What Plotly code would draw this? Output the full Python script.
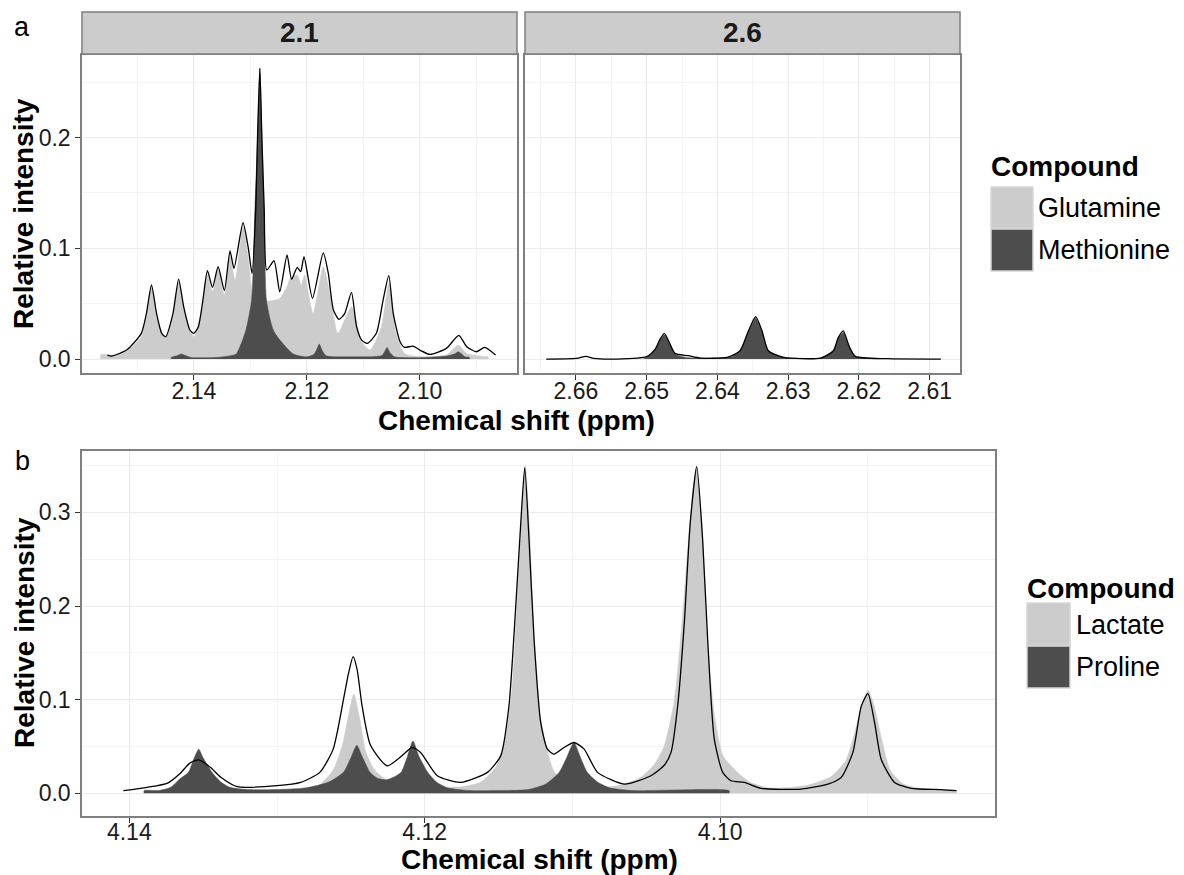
import plotly.graph_objects as go

# ---------------- data ----------------
# Panel a, left facet (2.1 ppm region)
glu_ppm = [2.1565, 2.1565, 2.1544, 2.1520, 2.1493, 2.1484, 2.1475, 2.1466, 2.1450, 2.1437,
           2.1427, 2.1416, 2.1400, 2.1384, 2.1376, 2.1367, 2.1357, 2.1346, 2.1336, 2.1327,
           2.1313, 2.1304, 2.1296, 2.1289, 2.1268, 2.1248, 2.1234, 2.1230, 2.1217, 2.1210,
           2.1204, 2.1189, 2.1171, 2.1159, 2.1145, 2.1121, 2.1103, 2.1088, 2.1068, 2.1055,
           2.1042, 2.1027, 2.0994, 2.0953, 2.0932, 2.0917, 2.0882, 2.0879, 2.0879]
glu_int = [0.0, 0.0042, 0.0036, 0.0066, 0.0201, 0.0382, 0.0638, 0.0382, 0.0186, 0.0382,
           0.0698, 0.0412, 0.0201, 0.0502, 0.0758, 0.0608, 0.0803, 0.0578, 0.0923, 0.0713,
           0.1194, 0.0923, 0.0587, 0.0517, 0.0523, 0.0547, 0.0668, 0.0728, 0.0758, 0.0668,
           0.0758, 0.0412, 0.0833, 0.0593, 0.0232, 0.0472, 0.0156, 0.0081, 0.0292, 0.0682,
           0.0232, 0.0051, 0.0021, 0.0036, 0.0126, 0.0051, 0.0021, 0.0021, 0.0]

met_a_ppm = [2.1440, 2.1440, 2.1430, 2.1422, 2.1414, 2.1405, 2.1360, 2.1335, 2.1325, 2.13085,
             2.12979, 2.1292, 2.12873, 2.12832, 2.12796, 2.12755, 2.12714, 2.12584, 2.1224, 2.1200,
             2.1188, 2.1183, 2.1178, 2.1173, 2.1166, 2.1120, 2.1068, 2.1063, 2.1058, 2.1053,
             2.1045, 2.0990, 2.0950, 2.0937, 2.0932, 2.0927, 2.0920, 2.0912, 2.0912]
met_a_int = [0.0, 0.0015, 0.003, 0.0045, 0.003, 0.0015, 0.0015, 0.003, 0.0045, 0.025,
             0.053, 0.135, 0.198, 0.2623, 0.198, 0.135, 0.053, 0.025, 0.0045, 0.002,
             0.004, 0.008, 0.0135, 0.008, 0.003, 0.002, 0.003, 0.006, 0.0105, 0.006,
             0.002, 0.0015, 0.003, 0.005, 0.0066, 0.005, 0.002, 0.0015, 0.0]

spec_a_ppm = [2.1553, 2.1546, 2.1519, 2.1493, 2.1484, 2.1475, 2.1466, 2.1457, 2.1450, 2.1437,
              2.1427, 2.1418, 2.1407, 2.1400, 2.1392, 2.1384, 2.1376, 2.1367, 2.1357, 2.1346,
              2.1336, 2.1329, 2.1313, 2.1304, 2.1297, 2.12905, 2.12873, 2.12832, 2.12796, 2.12755,
              2.1271, 2.1258, 2.1248, 2.1235, 2.1227, 2.1217, 2.1211, 2.1205, 2.1190, 2.1171,
              2.1162, 2.1153, 2.1143, 2.1133, 2.1121, 2.1112, 2.1103, 2.1093, 2.1077, 2.1065,
              2.1055, 2.1047, 2.1035, 2.1027, 2.1012, 2.1000, 2.0982, 2.0953, 2.0931, 2.0917,
              2.0900, 2.0885, 2.0866]
spec_a_int = [0.0036, 0.0027, 0.0081, 0.0232, 0.0412, 0.0668, 0.041, 0.0232, 0.0201, 0.041,
              0.0722, 0.0472, 0.0262, 0.0232, 0.0292, 0.0532, 0.0797, 0.0647, 0.0833, 0.0617,
              0.0975, 0.0818, 0.123, 0.1014, 0.0773, 0.135, 0.2, 0.2623, 0.2, 0.135,
              0.0803, 0.0887, 0.0607, 0.0939, 0.0719, 0.0827, 0.0788, 0.0923, 0.0548, 0.0959,
              0.0773, 0.0442, 0.0358, 0.041, 0.0602, 0.0292, 0.0171, 0.0141, 0.0232, 0.0532,
              0.0752, 0.041, 0.0156, 0.0105, 0.0117, 0.0081, 0.0042, 0.0096, 0.0214, 0.0111,
              0.0066, 0.0105, 0.0036]

# Panel a, right facet (2.6 ppm region)
met_b_ppm = [2.6505, 2.6500, 2.6488, 2.6481, 2.6475, 2.6468, 2.6460, 2.6445, 2.6400, 2.6380,
             2.6368, 2.6358, 2.6352, 2.6346, 2.6337, 2.6328, 2.6306, 2.6254, 2.6236, 2.6229,
             2.6222, 2.6214, 2.6205, 2.6190, 2.6185]
met_b_int = [0.0, 0.0015, 0.0085, 0.017, 0.022, 0.014, 0.0045, 0.0015, 0.001, 0.002,
             0.0075, 0.022, 0.030, 0.037, 0.025, 0.0075, 0.0015, 0.001, 0.0075, 0.019,
             0.024, 0.0115, 0.0024, 0.001, 0.0]

spec_b_ppm = [2.6642, 2.6599, 2.6586, 2.6575, 2.6542, 2.6500, 2.6488, 2.6481, 2.6475, 2.6468,
              2.6460, 2.6441, 2.6424, 2.6386, 2.6368, 2.6356, 2.6346, 2.6337, 2.6328, 2.6306,
              2.6254, 2.6236, 2.6229, 2.6222, 2.6214, 2.6205, 2.6160, 2.6084]
spec_b_int = [0.0, 0.0006, 0.0024, 0.0006, 0.0, 0.0021, 0.0089, 0.018, 0.0231, 0.0149,
              0.0051, 0.003, 0.0009, 0.0015, 0.0075, 0.0256, 0.0382, 0.0256, 0.0075, 0.0015,
              0.0009, 0.0075, 0.0195, 0.0255, 0.012, 0.0024, 0.0003, 0.0]

# Panel b (4.1 ppm region)
lac_ppm = [4.1285, 4.1285, 4.1272, 4.1262, 4.1256, 4.1252, 4.1248, 4.1244, 4.1240, 4.1234,
           4.1226, 4.1215, 4.1195, 4.1175, 4.1162, 4.1152, 4.1146, 4.1141, 4.1137, 4.11345,
           4.1132, 4.1129, 4.1126, 4.1122, 4.1117, 4.1112, 4.1100, 4.1085, 4.1070, 4.1055,
           4.1045, 4.1038, 4.1031, 4.1026, 4.1021, 4.1016, 4.1012, 4.1009, 4.1004, 4.0998,
           4.0988, 4.0980, 4.0968, 4.0955, 4.0940, 4.0925, 4.0915, 4.0909, 4.0904, 4.0900,
           4.0896, 4.0891, 4.0885, 4.0876, 4.0860, 4.0840, 4.0840]
lac_int = [0.0, 0.003, 0.008, 0.025, 0.05, 0.08, 0.106, 0.08, 0.045, 0.025,
           0.0145, 0.010, 0.007, 0.007, 0.012, 0.028, 0.055, 0.11, 0.22, 0.29,
           0.35, 0.28, 0.17, 0.085, 0.045, 0.022, 0.010, 0.006, 0.008, 0.016,
           0.03, 0.05, 0.10, 0.18, 0.28, 0.35, 0.28, 0.17, 0.085, 0.04,
           0.022, 0.012, 0.006, 0.006, 0.009, 0.018, 0.035, 0.065, 0.095, 0.11,
           0.095, 0.06, 0.025, 0.010, 0.004, 0.003, 0.0]

pro_ppm = [4.1390, 4.1390, 4.1380, 4.1372, 4.1366, 4.1360, 4.1356, 4.1353, 4.1350, 4.1344,
           4.1338, 4.1332, 4.1320, 4.1300, 4.1280, 4.1265, 4.1255, 4.1250, 4.1246, 4.1242,
           4.1237, 4.1232, 4.1226, 4.1220, 4.1216, 4.1212, 4.1208, 4.1204, 4.1198, 4.1192,
           4.1185, 4.1170, 4.1150, 4.1130, 4.1118, 4.1109, 4.1104, 4.1099, 4.1095, 4.1090,
           4.1083, 4.1075, 4.1060, 4.0994, 4.0994]
pro_int = [0.0, 0.003, 0.003, 0.0064, 0.015, 0.0224, 0.038, 0.0472, 0.038, 0.0224,
           0.012, 0.0064, 0.004, 0.004, 0.006, 0.012, 0.0224, 0.038, 0.0514, 0.038,
           0.0224, 0.016, 0.0145, 0.018, 0.0224, 0.038, 0.056, 0.040, 0.0224, 0.012,
           0.006, 0.003, 0.003, 0.004, 0.010, 0.0224, 0.038, 0.0543, 0.040, 0.0224,
           0.012, 0.006, 0.003, 0.003, 0.0]

spec_c_ppm = [4.1404, 4.1388, 4.1374, 4.1366, 4.1359, 4.1353, 4.1345, 4.1338, 4.1327, 4.1300,
              4.1284, 4.1271, 4.1262, 4.1255, 4.12515, 4.12485, 4.12458, 4.12424, 4.12367, 4.12254,
              4.12142, 4.12085, 4.12028, 4.11915, 4.11757, 4.11576, 4.11486, 4.1143, 4.11384, 4.1135,
              4.11323, 4.11294, 4.1126, 4.11215, 4.1117, 4.11125, 4.11057, 4.10989, 4.10921, 4.1083,
              4.1065, 4.10469, 4.10379, 4.10333, 4.10288, 4.10243, 4.10203, 4.10159, 4.10119, 4.10085,
              4.1004, 4.09983, 4.09927, 4.09837, 4.09723, 4.09452, 4.09271, 4.09181, 4.09102, 4.09045,
              4.0900, 4.08955, 4.0891, 4.0882, 4.08707, 4.08503, 4.08401]
spec_c_int = [0.0028, 0.0064, 0.011, 0.0206, 0.0323, 0.0358, 0.0277, 0.0171, 0.0071, 0.0082,
              0.0117, 0.0224, 0.0472, 0.1004, 0.1289, 0.1459, 0.1324, 0.0933, 0.0513, 0.0294,
              0.0419, 0.049, 0.0437, 0.0188, 0.0117, 0.0224, 0.04, 0.0933, 0.1998, 0.2886,
              0.3482, 0.2708, 0.1643, 0.0756, 0.0472, 0.0419, 0.049, 0.0543, 0.0472, 0.0224,
              0.0099, 0.0188, 0.03, 0.0437, 0.0933, 0.1821, 0.2886, 0.3489, 0.2708, 0.1643,
              0.0578, 0.0224, 0.0134, 0.0117, 0.0053, 0.0046, 0.0099, 0.0171, 0.0437, 0.0933,
              0.1065, 0.0756, 0.0362, 0.0117, 0.0053, 0.0039, 0.0028]

legend_a = ["Glutamine", "Methionine"]
legend_b = ["Lactate", "Proline"]
facet_labels = ["2.1", "2.6"]

# ---------------- styling ----------------
W, H = 1184, 875
LIGHT = "#CCCCCC"
DARK = "#4D4D4D"
FONT = "Liberation Sans, Arial, sans-serif"
GRID = "#EBEBEB"
MINOR = "#F4F4F4"
BORDER = "#7F7F7F"


def px(x):
    return x / W


def py(y):
    return 1 - y / H


fig = go.Figure()


def fill_trace(xs, ys, color, xa, ya):
    fig.add_trace(go.Scatter(x=xs, y=ys, mode="lines", fill="tozeroy",
                             fillcolor=color, line=dict(color=color, width=0.5, shape="spline", smoothing=0.6),
                             xaxis=xa, yaxis=ya, showlegend=False, hoverinfo="skip"))


def line_trace(xs, ys, xa, ya):
    fig.add_trace(go.Scatter(x=xs, y=ys, mode="lines",
                             line=dict(color="black", width=1.3, shape="spline", smoothing=0.6),
                             xaxis=xa, yaxis=ya, showlegend=False, hoverinfo="skip"))


fill_trace(glu_ppm, glu_int, LIGHT, "x", "y")
fill_trace(met_a_ppm, met_a_int, DARK, "x", "y")
line_trace(spec_a_ppm, spec_a_int, "x", "y")

fill_trace(met_b_ppm, met_b_int, DARK, "x2", "y2")
line_trace(spec_b_ppm, spec_b_int, "x2", "y2")

fill_trace(lac_ppm, lac_int, LIGHT, "x3", "y3")
fill_trace(pro_ppm, pro_int, DARK, "x3", "y3")
line_trace(spec_c_ppm, spec_c_int, "x3", "y3")

tickfont = dict(family=FONT, size=23, color="#1A1A1A")


def xaxis(domain, rng, dtick, minor_dtick, anchor, standoff):
    return dict(domain=domain, range=rng, anchor=anchor, dtick=dtick, tick0=0,
                tickformat=".2f", ticks="outside", ticklen=5, tickcolor="#333333", tickwidth=1.2,
                ticklabelstandoff=standoff,
                showgrid=True, gridcolor=GRID, gridwidth=1.2,
                minor=dict(dtick=minor_dtick, tick0=0, showgrid=True, gridcolor=MINOR, gridwidth=0.8, ticks=""),
                showline=True, linecolor=BORDER, linewidth=1.5, mirror=True, zeroline=False,
                tickfont=tickfont, fixedrange=True)


def yaxis(domain, rng, anchor, labels=True):
    return dict(domain=domain, range=rng, anchor=anchor, dtick=0.1, tick0=0,
                tickformat=".1f", ticks="outside" if labels else "", ticklen=5, tickcolor="#333333",
                tickwidth=1.2, showticklabels=labels,
                showgrid=True, gridcolor=GRID, gridwidth=1.2,
                minor=dict(dtick=0.05, tick0=0, showgrid=True, gridcolor=MINOR, gridwidth=0.8, ticks=""),
                showline=True, linecolor=BORDER, linewidth=1.5, mirror=True, zeroline=False,
                tickfont=tickfont, fixedrange=True)


ya_dom = [py(373), py(55)]
yb_dom = [py(816), py(451)]

fig.update_layout(
    width=W, height=H, margin=dict(l=0, r=0, t=0, b=0),
    paper_bgcolor="white", plot_bgcolor="white",
    xaxis=xaxis([px(82), px(517)], [2.1598, 2.0828], 0.02, 0.01, "y", -8),
    xaxis2=xaxis([px(525), px(960)], [2.6672, 2.6057], 0.01, 0.005, "y2", -8),
    xaxis3=xaxis([px(82), px(995)], [4.1432, 4.0814], 0.02, 0.01, "y3", -10),
    yaxis=yaxis(ya_dom, [-0.0126, 0.2744], "x"),
    yaxis2=yaxis(ya_dom, [-0.0126, 0.2744], "x2", labels=False),
    yaxis3=yaxis(yb_dom, [-0.0242, 0.3656], "x3"),
    showlegend=False,
)

shapes = []
annotations = []

# facet strips
for (x0, x1), lab in zip([(82, 517), (525, 960)], facet_labels):
    shapes.append(dict(type="rect", xref="paper", yref="paper", x0=px(x0), x1=px(x1),
                       y0=py(54), y1=py(12), fillcolor=LIGHT, line=dict(color=BORDER, width=1.5)))
    annotations.append(dict(xref="paper", yref="paper", x=px((x0 + x1) / 2), y=py(33), text=lab,
                            showarrow=False, xanchor="center", yanchor="middle",
                            font=dict(family=FONT, size=28, color="#1A1A1A", weight="bold")))

# axis titles
for xc, yc in [(516, 420), (539, 859)]:
    annotations.append(dict(xref="paper", yref="paper", x=px(xc), y=py(yc), text="Chemical shift (ppm)",
                            showarrow=False, xanchor="center", yanchor="middle",
                            font=dict(family=FONT, size=28, color="black", weight="bold")))
for yc in [214, 633]:
    annotations.append(dict(xref="paper", yref="paper", x=px(24), y=py(yc), text="Relative intensity",
                            showarrow=False, xanchor="center", yanchor="middle", textangle=-90,
                            font=dict(family=FONT, size=28, color="black", weight="bold")))

# panel tags
for tag, yc in [("a", 27), ("b", 461)]:
    annotations.append(dict(xref="paper", yref="paper", x=px(22), y=py(yc), text=tag,
                            showarrow=False, xanchor="center", yanchor="middle",
                            font=dict(family=FONT, size=27, color="black")))


# legends
def legend(title_x, title_y, key_x0, key_x1, key_rows, labels, label_x):
    annotations.append(dict(xref="paper", yref="paper", x=px(title_x), y=py(title_y), text="Compound",
                            showarrow=False, xanchor="left", yanchor="middle",
                            font=dict(family=FONT, size=28, color="black", weight="bold")))
    for (y0, y1), lab, col in zip(key_rows, labels, [LIGHT, DARK]):
        shapes.append(dict(type="rect", xref="paper", yref="paper", x0=px(key_x0), x1=px(key_x1),
                           y0=py(y1), y1=py(y0), fillcolor=col, line=dict(color="#D6D6D6", width=1.5)))
        annotations.append(dict(xref="paper", yref="paper", x=px(label_x), y=py((y0 + y1) / 2), text=lab,
                                showarrow=False, xanchor="left", yanchor="middle",
                                font=dict(family=FONT, size=27, color="black")))


legend(989, 167, 991, 1033, [(187, 229), (229, 271)], legend_a, 1036)
legend(1025, 588, 1027, 1070, [(603, 646), (646, 688)], legend_b, 1074)

fig.update_layout(shapes=shapes, annotations=annotations)
fig.write_html("out.html")
